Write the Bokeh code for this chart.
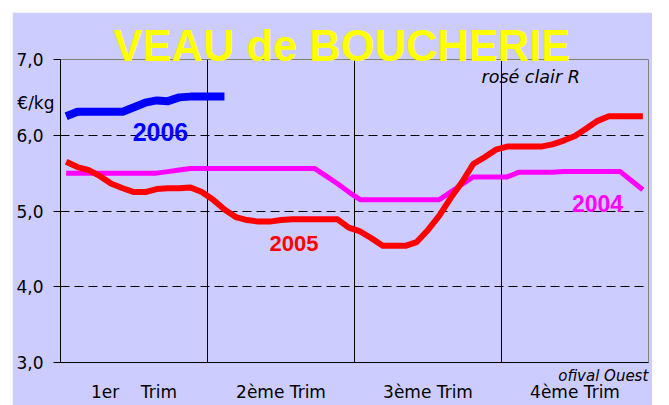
from bokeh.plotting import figure
from bokeh.models import FixedTicker, Label, LinearAxis
from bokeh.embed import file_html
from bokeh.resources import INLINE

# ---- data ----
weeks = list(range(1, 53))
quarters = ["1er\u00a0\u00a0\u00a0 Trim", "2ème Trim", "3ème Trim", "4ème Trim"]
quarter_centers = [6.5, 19.5, 32.5, 45.5]
quarter_bounds = [13, 26, 39]
y_ticks = [3, 4, 5, 6, 7]
y_tick_labels = ["3,0", "4,0", "5,0", "6,0", "7,0"]
unit_label = "€/kg"
unit_level = 6.42
source_label = "ofival Ouest"
source_pos = 48.0

prix_2004 = [5.50, 5.50, 5.50, 5.50, 5.50, 5.50, 5.50, 5.50, 5.50,
             5.52, 5.54,
             5.56, 5.56, 5.56, 5.56, 5.56, 5.56, 5.56, 5.56, 5.56, 5.56, 5.56, 5.56,
             5.46, 5.36, 5.25,
             5.15, 5.15, 5.15, 5.15, 5.15, 5.15, 5.15, 5.15,
             5.25, 5.35,
             5.45, 5.45, 5.45, 5.45,
             5.51, 5.51, 5.51, 5.51, 5.52, 5.52, 5.52, 5.52, 5.52, 5.52,
             5.40, 5.28]

prix_2005 = [5.65, 5.58, 5.54, 5.46, 5.36, 5.30, 5.25, 5.25, 5.29, 5.30,
             5.30, 5.31, 5.25, 5.15, 5.02, 4.92, 4.88, 4.86, 4.86, 4.88,
             4.89, 4.89, 4.89, 4.89, 4.89, 4.78, 4.73, 4.64, 4.54, 4.54,
             4.54, 4.59, 4.75, 4.94, 5.17, 5.38, 5.62, 5.71, 5.81, 5.85,
             5.85, 5.85, 5.85, 5.88, 5.93, 5.99, 6.09, 6.19, 6.25, 6.25,
             6.25, 6.25]

prix_2006 = [6.25, 6.31, 6.31, 6.31, 6.31, 6.31, 6.37, 6.43, 6.46, 6.45,
             6.50, 6.51, 6.51, 6.51, 6.51]

LAV = "#CCCCFF"
FONT = "DejaVu Sans"

p = figure(width=640, height=393, output_backend="svg", toolbar_location=None,
           x_range=(0, 52), y_range=(3, 7),
           min_border_left=48, min_border_right=4, min_border_top=47, min_border_bottom=43,
           background_fill_color=LAV, border_fill_color=LAV)
p.margin = (12, 0, 0, 12)
p.outline_line_color = "#808080"

# title overlapping the top of the plot area
p.title.text = "VEAU de BOUCHERIE"
p.title.align = "left"
p.title.offset = 53
p.title.vertical_align = "top"
p.title.standoff = -25
p.title.text_font = "Liberation Sans"
p.title.text_font_style = "bold"
p.title.text_font_size = "43.5px"
p.title.text_color = "#FFFF00"

# grids
p.ygrid.ticker = FixedTicker(ticks=[4, 5, 6, 7])
p.ygrid.grid_line_color = "black"
p.ygrid.grid_line_dash = "9 5"
p.ygrid.grid_line_width = 1
p.xgrid.ticker = FixedTicker(ticks=quarter_bounds)
p.xgrid.grid_line_color = "black"
p.xgrid.grid_line_width = 1

# axes
p.xaxis.ticker = FixedTicker(ticks=quarter_centers)
p.xaxis.major_label_overrides = {c: q for c, q in zip(quarter_centers, quarters)}
p.xaxis.major_tick_line_color = None
p.xaxis.minor_tick_line_color = None
p.xaxis.axis_line_color = "black"
p.xaxis.major_label_text_font = FONT
p.xaxis.major_label_text_font_size = "17px"
p.xaxis.major_label_text_color = "black"
p.xaxis.major_label_standoff = 13

p.yaxis.ticker = FixedTicker(ticks=y_ticks)
p.yaxis.major_label_overrides = {t: l for t, l in zip(y_ticks, y_tick_labels)}
p.yaxis.major_tick_out = 7
p.yaxis.major_tick_in = 0
p.yaxis.minor_tick_line_color = None
p.yaxis.axis_line_color = "black"
p.yaxis.major_tick_line_color = "black"
p.yaxis.major_label_text_font = FONT
p.yaxis.major_label_text_font_size = "17px"
p.yaxis.major_label_text_color = "black"
p.yaxis.major_label_standoff = 10

# unit label shown as a second (line-less) left axis
unit_axis = LinearAxis(ticker=FixedTicker(ticks=[unit_level]),
                       major_label_overrides={unit_level: unit_label},
                       axis_line_color=None, major_tick_line_color=None,
                       minor_tick_line_color=None, major_tick_out=0, major_tick_in=0,
                       major_label_standoff=-41,
                       major_label_text_font=FONT, major_label_text_font_size="17px",
                       major_label_text_color="black")
p.add_layout(unit_axis, "left")

# source note shown as a second (line-less) bottom axis
source_axis = LinearAxis(ticker=FixedTicker(ticks=[source_pos]),
                         major_label_overrides={source_pos: source_label},
                         axis_line_color=None, major_tick_line_color=None,
                         minor_tick_line_color=None, major_tick_out=0, major_tick_in=0,
                         major_label_standoff=-38,
                         major_label_text_font=FONT, major_label_text_font_size="15px",
                         major_label_text_font_style="italic",
                         major_label_text_color="black")
p.add_layout(source_axis, "below")

xs = [w - 0.5 for w in weeks]
p.line(xs, prix_2004, line_color="#FF00FF", line_width=5, line_join="round")
p.line(xs, prix_2005, line_color="#FF0000", line_width=6, line_join="round")
p.line(xs[:len(prix_2006)], prix_2006, line_color="#0000FF", line_width=8, line_join="round")

def lab(x, y, text, color="black", size="17px", style="normal", font=FONT, align="left"):
    p.add_layout(Label(x=x, y=y, text=text, text_color=color, text_font_size=size,
                       text_font_style=style, text_font=font, text_align=align,
                       text_baseline="alphabetic"))

lab(8.84, 6.045, "2006", color="#0000FF", size="25px", style="bold", font="Liberation Sans", align="center")
lab(20.65, 4.57, "2005", color="#FF0000", size="22px", style="bold", font="Liberation Sans", align="center")
lab(47.49, 5.105, "2004", color="#FF00FF", size="23px", style="bold", font="Liberation Sans", align="center")
lab(37.23, 6.77, "rosé clair R", style="italic", size="17.5px")

open("out.html", "w").write(file_html(p, INLINE))
